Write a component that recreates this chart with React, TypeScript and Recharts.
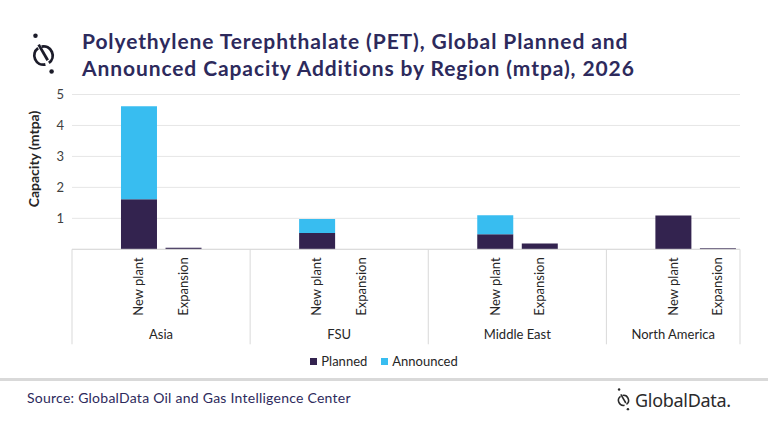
import { BarChart, Bar, XAxis, YAxis, CartesianGrid, Label } from "recharts"

// capacity additions (mtpa) per region, New plant / Expansion
const regions = ["Asia", "FSU", "Middle East", "North America"]
const projectTypes = ["New plant", "Expansion"]
const planned = [1.62, 0.05, 0.53, 0, 0.49, 0.19, 1.09, 0.03]
const announced = [3.0, 0, 0.45, 0, 0.61, 0, 0, 0]
const yTicks = [0, 1, 2, 3, 4, 5]

const PLANNED = "#33234f"
const ANNOUNCED = "#38bdf0"
const NAVY = "#2d2a5c"
const TEXT = "#262626"

interface Row {
  key: string
  sub: string
  region: string
  first: boolean
  span: number
  planned?: number
  announced?: number
}

// each region gets a blank slot either side of its two bars (last one has no trailing blank)
const rows: Row[] = []
regions.forEach((region, r) => {
  const last = r === regions.length - 1
  const span = last ? 3 : 4
  rows.push({ key: `${region}-pad0`, sub: "", region, first: true, span })
  projectTypes.forEach((sub, s) => {
    const i = r * projectTypes.length + s
    rows.push({
      key: `${region}-${sub}`,
      sub,
      region,
      first: false,
      span,
      planned: planned[i],
      announced: announced[i],
    })
  })
  if (!last) rows.push({ key: `${region}-pad1`, sub: "", region, first: false, span })
})

const SlotTick = (props: any) => {
  const { x, y, index } = props
  const row = rows[index]
  if (!row) return null
  const half = props.payload?.offset ?? 22.25
  const lineBottom = y + 95
  return (
    <g>
      {row.sub && (
        <text
          x={x + 4.5}
          y={y + 8}
          transform={`rotate(-90, ${x + 4.5}, ${y + 8})`}
          textAnchor="end"
          fontSize={13}
          fill={TEXT}
          fontFamily="Lato, sans-serif"
        >
          {row.sub}
        </text>
      )}
      {row.first && (
        <>
          <line x1={x - half} y1={y} x2={x - half} y2={lineBottom} stroke="#d9d9d9" />
          <text
            x={x - half + row.span * half}
            y={y + 90}
            textAnchor="middle"
            fontSize={13}
            fill={TEXT}
            fontFamily="Lato, sans-serif"
          >
            {row.region}
          </text>
        </>
      )}
      {index === rows.length - 1 && (
        <line x1={x + half} y1={y} x2={x + half} y2={lineBottom} stroke="#d9d9d9" />
      )}
    </g>
  )
}

const YTitle = (props: any) => {
  const vb = props.viewBox
  const cx = vb.x - 3
  const cy = 159
  return (
    <text
      x={cx}
      y={cy}
      transform={`rotate(-90, ${cx}, ${cy})`}
      textAnchor="middle"
      fontSize={14}
      fontWeight={700}
      fill={TEXT}
      fontFamily="Lato, sans-serif"
    >
      Capacity (mtpa)
    </text>
  )
}

// ring broken by a slanted stroke, with a dot at each end
const LogoMark = ({ width, color = "#1c1c2a" }: { width: number; color?: string }) => (
  <svg width={width} height={(width * 62) / 44} viewBox="0 0 44 62" style={{ display: "block" }}>
    <path d="M 14.36 21.48 A 13 13 0 0 0 24.7 44.72" fill="none" stroke={color} strokeWidth={4} />
    <path d="M 19.3 19.28 A 13 13 0 0 1 29.64 42.52" fill="none" stroke={color} strokeWidth={4} />
    <line x1={15.1} y1={16.5} x2={28} y2={38.8} stroke={color} strokeWidth={4} />
    <circle cx={10.6} cy={3.8} r={3.2} fill={color} />
    <circle cx={33.5} cy={54.7} r={3.2} fill={color} />
  </svg>
)

export default function App() {
  return (
    <div
      style={{
        position: "absolute",
        left: 0,
        top: 0,
        width: 768,
        height: 432,
        background: "#ffffff",
        fontFamily: "Lato, sans-serif",
        overflow: "hidden",
      }}
    >
      <div style={{ position: "absolute", left: 28, top: 33 }}>
        <LogoMark width={31} />
      </div>
      <div
        style={{
          position: "absolute",
          left: 82,
          top: 27,
          fontSize: 21,
          lineHeight: "27px",
          fontWeight: 700,
          letterSpacing: 0.9,
          color: NAVY,
          whiteSpace: "nowrap",
        }}
      >
        Polyethylene Terephthalate (PET), Global Planned and
        <br />
        Announced Capacity Additions by Region (mtpa), 2026
      </div>

      <div style={{ position: "absolute", left: 0, top: 0 }}>
        <BarChart
          width={768}
          height={432}
          data={rows}
          margin={{ top: 94.5, right: 28, left: 42, bottom: 82.7 }}
          barCategoryGap="10%"
        >
          <CartesianGrid vertical={false} stroke="#e6e6e6" />
          <XAxis
            dataKey="key"
            interval={0}
            tickLine={false}
            tickSize={0}
            tickMargin={0}
            height={100}
            stroke="#d9d9d9"
            tick={<SlotTick />}
          />
          <YAxis
            domain={[0, 5]}
            ticks={yTicks}
            width={30}
            axisLine={false}
            tickLine={false}
            tick={{ fontSize: 13, fill: "#404040", fontFamily: "Lato, sans-serif" }}
            tickFormatter={(v: number) => (v === 0 ? "" : String(v))}
          >
            <Label content={<YTitle />} />
          </YAxis>
          <Bar dataKey="planned" name="Planned" stackId="cap" fill={PLANNED} isAnimationActive={false} />
          <Bar dataKey="announced" name="Announced" stackId="cap" fill={ANNOUNCED} isAnimationActive={false} />
        </BarChart>
      </div>

      <div
        style={{
          position: "absolute",
          top: 353,
          left: 0,
          width: 768,
          display: "flex",
          justifyContent: "center",
          gap: 14,
          fontSize: 13,
          color: TEXT,
        }}
      >
        <span style={{ display: "flex", alignItems: "center", gap: 4 }}>
          <span style={{ width: 7, height: 7, background: PLANNED, display: "inline-block" }} />
          Planned
        </span>
        <span style={{ display: "flex", alignItems: "center", gap: 4 }}>
          <span style={{ width: 7, height: 7, background: ANNOUNCED, display: "inline-block" }} />
          Announced
        </span>
      </div>

      <div
        style={{
          position: "absolute",
          top: 378,
          left: 0,
          width: 768,
          height: 3,
          background: "#d9d9d9",
        }}
      />
      <div
        style={{
          position: "absolute",
          left: 27,
          top: 389,
          fontSize: 14,
          letterSpacing: 0.25,
          color: NAVY,
        }}
      >
        Source: GlobalData Oil and Gas Intelligence Center
      </div>
      <div style={{ position: "absolute", left: 615, top: 388 }}>
        <LogoMark width={17} color="#2a2a2a" />
      </div>
      <div
        style={{
          position: "absolute",
          left: 635,
          top: 388,
          fontFamily: "'Noto Sans', sans-serif",
          fontSize: 18,
          lineHeight: "24px",
          color: "#2a2a2a",
          letterSpacing: -0.3,
        }}
      >
        GlobalData.
      </div>
    </div>
  )
}
